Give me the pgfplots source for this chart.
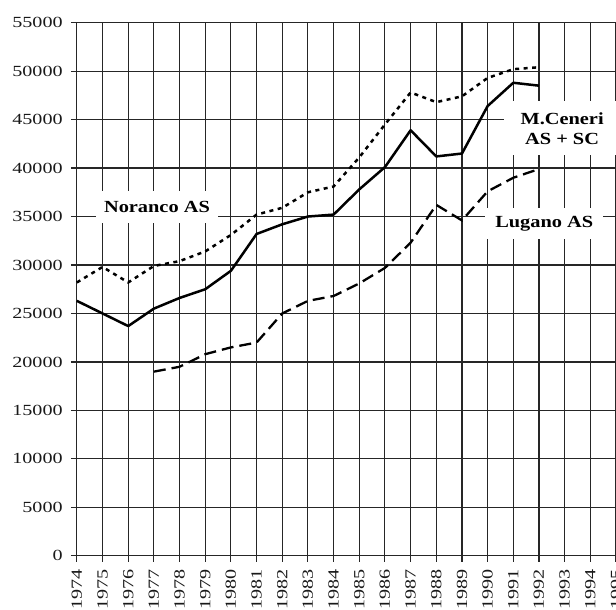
\documentclass[border=0pt]{standalone}
\usepackage{pgfplots}
\pgfplotsset{compat=1.18}
\usepackage{graphicx}
\usepackage{fontspec}
\setmainfont{Liberation Serif}
\newcommand{\wide}[1]{\scalebox{1.3}[1]{#1}}
\begin{document}
\begin{tikzpicture}
\begin{axis}[
  at={(0pt,0pt)}, anchor=south west,
  scale only axis, width=540pt, height=534pt,
  xmin=1974, xmax=1995, ymin=0, ymax=55000,
  xtick={1974,...,1995}, ytick={0,5000,...,55000},
  xticklabels={1974,1975,1976,1977,1978,1979,1980,1981,1982,1983,1984,1985,1986,1987,1988,1989,1990,1991,1992,1993,1994,1995},
  yticklabels={0,5000,10000,15000,20000,25000,30000,35000,40000,45000,50000,55000},
  grid=major, major grid style={black!85, line width=1.15pt},
  axis line style={black!85, line width=1.15pt},
  tick style={black!85, line width=1.15pt},
  tick align=outside, tick pos=left, major tick length=6pt,
  scaled y ticks=false,
  ticklabel style={font=\fontsize{15.5}{15.5}\selectfont, text=black!90},
  yticklabel style={inner sep=0pt, xshift=-8pt, xscale=1.3, transform shape, anchor=east},
  xticklabel style={rotate=90, anchor=east, inner sep=0pt, yshift=0pt, xshift=-7pt, xscale=1.3, transform shape},
  clip=false,
]
\node[fill=white, anchor=west, inner xsep=8pt, inner ysep=10pt,
      font=\bfseries\fontsize{17}{20}\selectfont]
  at (axis cs:1974.74,36000) {\scalebox{1.2}[1]{Noranco AS}\hspace{18pt}};
\node[fill=white, align=center, inner xsep=17pt, inner ysep=11pt,
      font=\bfseries\fontsize{17}{20}\selectfont]
  at (axis cs:1992.9,44100) {\scalebox{1.2}[1]{M.Ceneri}\\\scalebox{1.2}[1]{AS + SC}};
\node[fill=white, anchor=west, inner xsep=10pt, inner ysep=8pt,
      font=\bfseries\fontsize{17}{20}\selectfont]
  at (axis cs:1989.9,34250) {\scalebox{1.2}[1]{Lugano AS}\hspace{14pt}};

% M.Ceneri AS + SC (solid)
\addplot[black, line width=2.5pt, line join=round] coordinates {
 (1974,26300) (1975,25000) (1976,23700) (1977,25500) (1978,26600)
 (1979,27500) (1980,29400) (1981,33200) (1982,34200) (1983,35000)
 (1984,35200) (1985,37800) (1986,40100) (1987,43900) (1988,41200)
 (1989,41500) (1990,46400) (1991,48800) (1992,48500)};
% Noranco AS (dotted)
\addplot[black, line width=2.5pt, dash pattern=on 4pt off 4.5pt] coordinates {
 (1974,28200) (1975,29800) (1976,28200) (1977,29900) (1978,30400)
 (1979,31400) (1980,33100) (1981,35200) (1982,35900) (1983,37500)
 (1984,38100) (1985,41100) (1986,44500) (1987,47800) (1988,46800)
 (1989,47400) (1990,49300) (1991,50200) (1992,50400)};
% Lugano AS (dashed)
\addplot[black, line width=2.3pt, dash pattern=on 12pt off 6pt] coordinates {
 (1977,19000) (1978,19500) (1979,20800) (1980,21500) (1981,22000)
 (1982,25000) (1983,26300) (1984,26800) (1985,28100) (1986,29700)
 (1987,32300) (1988,36200) (1989,34600) (1990,37600) (1991,39000)
 (1992,39900)};
\end{axis}
\pgfresetboundingbox
\path[use as bounding box] (-77pt,-54pt) rectangle (540pt,556.7pt);
\end{tikzpicture}
\end{document}
